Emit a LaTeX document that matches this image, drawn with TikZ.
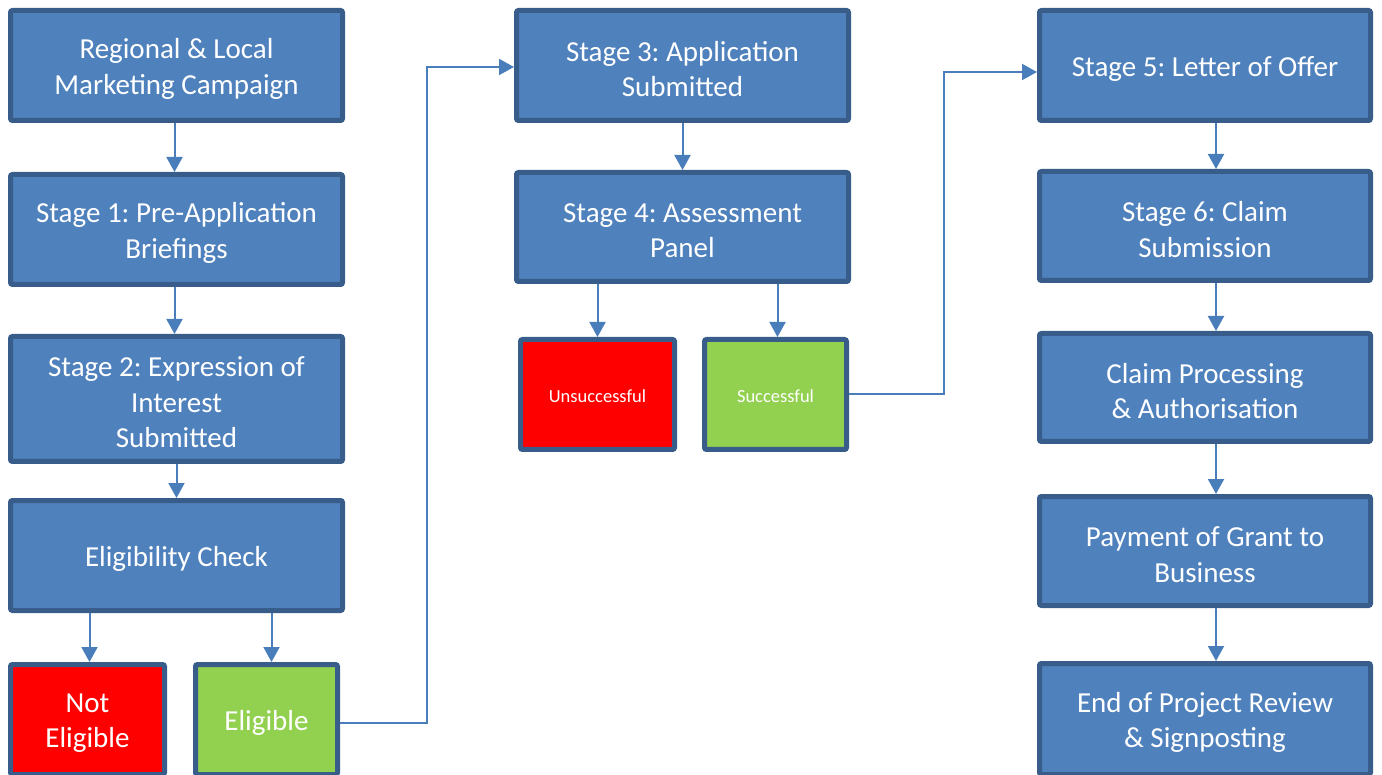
\documentclass[tikz,border=0pt]{standalone}
\usepackage{fontspec}
\setmainfont{Carlito}
\frenchspacing
\usetikzlibrary{arrows.meta}
\definecolor{boxblue}{HTML}{4F81BD}
\definecolor{boxedge}{HTML}{385D8A}
\definecolor{okgreen}{HTML}{92D050}
\definecolor{nored}{HTML}{FF0000}
\definecolor{linkblue}{HTML}{4A7EBB}
\tikzset{
  box/.style={draw=boxedge, line width=5pt, fill=boxblue, rounded corners=2pt, inner sep=0pt},
  wide/.style={box, minimum width=332pt},
  col3/.style={box, minimum width=331pt},
  redbox/.style={box, fill=nored, minimum width=154pt, minimum height=110pt},
  greenbox/.style={box, fill=okgreen, minimum width=142pt, minimum height=110pt},
  txt/.style={text=white, align=center, inner sep=0pt, font=\fontsize{29pt}{35.5pt}\selectfont},
  small/.style={txt, font=\fontsize{18.5pt}{22pt}\selectfont},
  conn/.style={draw=linkblue, line width=2pt, -{Triangle[length=15pt,width=16pt]}},
}
\begin{document}
\begin{tikzpicture}[x=1pt,y=-1pt]
\useasboundingbox (0,0) rectangle (1382,775);
% column 1
\node[wide, minimum height=110pt] (mkt) at (176.5,65.5) {};
\node[wide, minimum height=110pt] (s1) at (176.5,229.5) {};
\node[wide, minimum height=125pt] (s2) at (176.5,399) {};
\node[wide, minimum height=110pt] (chk) at (176.5,555.5) {};
\node[redbox] (ne) at (87.5,719.5) {};
\node[greenbox] (el) at (266.5,719.5) {};
% column 2
\node[wide, minimum height=110pt] (s3) at (682.5,65.5) {};
\node[wide, minimum height=109pt] (s4) at (682.5,227) {};
\node[redbox] (un) at (597.5,394.5) {};
\node[greenbox] (su) at (775.5,394.5) {};
% column 3
\node[col3, minimum height=110pt] (s5) at (1205,65.5) {};
\node[col3, minimum height=109pt] (s6) at (1205,226) {};
\node[col3, minimum height=108pt] (cp) at (1205,387.5) {};
\node[col3, minimum height=109pt] (pay) at (1205,551) {};
\node[col3, minimum height=111pt] (end) at (1205,719) {};
% texts
\node[txt] (tmkt) at ([yshift=-3.5pt]mkt.center) {Regional \& Local\\Marketing Campaign};
\node[txt] (ts1) at ([yshift=-3.5pt]s1.center) {Stage 1: Pre-Application\\Briefings};
\node[txt] (ts2) at ([yshift=-3.5pt]s2.center) {Stage 2: Expression of\\Interest\\Submitted};
\node[txt] (tchk) at ([yshift=-3.5pt]chk.center) {Eligibility Check};
\node[txt] (tne) at ([yshift=-3.5pt]ne.center) {Not\\Eligible};
\node[txt] (tel) at ([yshift=-3.5pt]el.center) {Eligible};
\node[txt] (ts3) at ([yshift=-3.5pt]s3.center) {Stage 3: Application\\Submitted};
\node[txt] (ts4) at ([yshift=-3.5pt]s4.center) {Stage 4: Assessment\\Panel};
\node[small] (tun) at ([yshift=-1.5pt]un.center) {Unsuccessful};
\node[small] (tsu) at ([yshift=-1.5pt]su.center) {Successful};
\node[txt] (ts5) at ([yshift=-3.5pt]s5.center) {Stage 5: Letter of Offer};
\node[txt] (ts6) at ([yshift=-3.5pt]s6.center) {Stage 6: Claim\\Submission};
\node[txt] (tcp) at ([yshift=-3.5pt]cp.center) {Claim Processing\\\& Authorisation};
\node[txt] (tpay) at ([yshift=-3.5pt]pay.center) {Payment of Grant to\\Business};
\node[txt] (tend) at ([yshift=-3.5pt]end.center) {End of Project Review\\\& Signposting};
% connectors column 1
\draw[conn] ([xshift=-2pt]mkt.south) -- ([xshift=-2pt]s1.north);
\draw[conn] ([xshift=-2pt]s1.south) -- ([xshift=-2pt]s2.north);
\draw[conn] (s2.south) -- (chk.north);
\draw[conn] ([xshift=2pt]ne.north |- chk.south) -- ([xshift=2pt]ne.north);
\draw[conn] ([xshift=5pt]el.north |- chk.south) -- ([xshift=5pt]el.north);
% eligible to stage 3
\coordinate (j1) at (427,67);
\draw[conn] ([yshift=-3pt]el.east) -| (j1) -- (s3.west |- j1);
% column 2
\draw[conn] (s3.south) -- (s4.north);
\draw[conn] (un.north |- s4.south) -- (un.north);
\draw[conn] ([xshift=2pt]su.north |- s4.south) -- ([xshift=2pt]su.north);
% successful to stage 5
\coordinate (j2) at (944,72);
\draw[conn] (su.east) -| (j2) -- (s5.west |- j2);
% column 3
\draw[conn] ([xshift=11pt]s5.south) -- ([xshift=11pt]s6.north);
\draw[conn] ([xshift=11pt]s6.south) -- ([xshift=11pt]cp.north);
\draw[conn] ([xshift=11pt]cp.south) -- ([xshift=11pt]pay.north);
\draw[conn] ([xshift=11pt]pay.south) -- ([xshift=11pt]end.north);
\end{tikzpicture}
\end{document}
